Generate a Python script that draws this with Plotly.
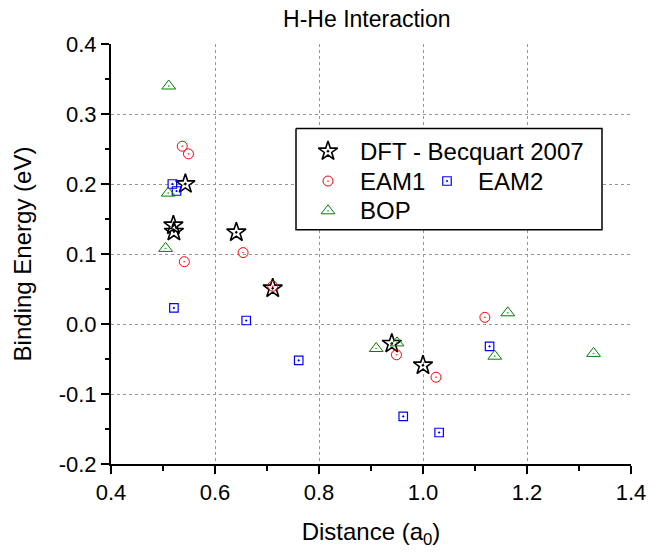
import plotly.graph_objects as go

# ---------------- data ----------------
dft_x = [0.543, 0.520, 0.521, 0.641, 0.711, 0.940, 1.000]
dft_y = [0.200, 0.141, 0.132, 0.131, 0.051, -0.028, -0.059]

eam1_x = [0.537, 0.549, 0.541, 0.654, 0.711, 0.949, 1.025, 1.119]
eam1_y = [0.254, 0.243, 0.089, 0.102, 0.054, -0.044, -0.076, 0.0095]

eam2_x = [0.518, 0.526, 0.521, 0.660, 0.761, 0.962, 1.031, 1.128]
eam2_y = [0.200, 0.190, 0.023, 0.005, -0.052, -0.132, -0.155, -0.032]

bop_x = [0.511, 0.510, 0.505, 0.910, 0.950, 1.138, 1.163, 1.328]
bop_y = [0.340, 0.187, 0.108, -0.035, -0.027, -0.046, 0.016, -0.042]

x_tick_vals = [0.4, 0.6, 0.8, 1.0, 1.2, 1.4]
x_tick_labels = ["0.4", "0.6", "0.8", "1.0", "1.2", "1.4"]
y_tick_vals = [-0.2, -0.1, 0.0, 0.1, 0.2, 0.3, 0.4]
y_tick_labels = ["-0.2", "-0.1", "0.0", "0.1", "0.2", "0.3", "0.4"]

series_names = ["DFT - Becquart 2007", "EAM1", "EAM2", "BOP"]

# ---------------- styles ----------------
FONT = "Liberation Sans, Arial, Helvetica, sans-serif"
W, H = 659, 553
ML, MR, MT, MB = 111, 28, 44, 86
BLACK = "black"
RED = "rgb(255,0,0)"
BLUE = "rgb(0,0,255)"
GREEN = "rgb(0,128,0)"

styles = {
    "star": dict(symbol="star-open-dot", size=14.5, color=BLACK, line=dict(color=BLACK, width=1.6)),
    "circle": dict(symbol="circle-open-dot", size=10, color=RED, line=dict(color=RED, width=1)),
    "square": dict(symbol="square-open-dot", size=8.5, color=BLUE, line=dict(color=BLUE, width=1.2)),
    "tri": dict(symbol="triangle-up-open-dot", size=12, color=GREEN, line=dict(color=GREEN, width=1)),
}

fig = go.Figure()
fig.add_trace(go.Scatter(x=dft_x, y=dft_y, mode="markers", name=series_names[0],
                         marker=styles["star"], showlegend=False))
fig.add_trace(go.Scatter(x=eam1_x, y=eam1_y, mode="markers", name=series_names[1],
                         marker=styles["circle"], showlegend=False))
fig.add_trace(go.Scatter(x=eam2_x, y=eam2_y, mode="markers", name=series_names[2],
                         marker=styles["square"], showlegend=False))
fig.add_trace(go.Scatter(x=bop_x, y=bop_y, mode="markers", name=series_names[3],
                         marker=styles["tri"], showlegend=False))

# ---------------- manual legend (pixel-coordinate overlay axes) ----------------
box_l, box_r, box_t, box_b = 296, 602, 129, 231
fig.add_trace(go.Scatter(x=[box_l, box_r, box_r, box_l, box_l],
                         y=[box_t, box_t, box_b, box_b, box_t],
                         mode="lines", fill="toself", fillcolor="white",
                         line=dict(color=BLACK, width=1.5),
                         xaxis="x3", yaxis="y3", showlegend=False, hoverinfo="skip"))
legend_items = [
    (series_names[0], "star", 328, 152, 358),
    (series_names[1], "circle", 328, 182, 358),
    (series_names[2], "square", 447, 182, 476),
    (series_names[3], "tri", 328, 212, 358),
]
for name, st, mx, my, tx in legend_items:
    fig.add_trace(go.Scatter(x=[mx], y=[my], mode="markers", marker=styles[st],
                             xaxis="x3", yaxis="y3", showlegend=False, hoverinfo="skip"))
    fig.add_annotation(x=tx, y=my, xref="x3", yref="y3", text=name, showarrow=False,
                       xanchor="left", yanchor="middle",
                       font=dict(family=FONT, size=24, color=BLACK))

axis_common = dict(showline=True, linecolor=BLACK, linewidth=2, zeroline=False)

fig.update_layout(
    width=W, height=H,
    margin=dict(l=ML, r=MR, t=MT, b=MB, pad=0),
    paper_bgcolor="white", plot_bgcolor="white",
    font=dict(family=FONT, color=BLACK),
    title=dict(text="H-He Interaction", x=0.492, xref="paper", xanchor="center",
               y=1 - 19 / H, yref="container", yanchor="middle",
               font=dict(family=FONT, size=23, color=BLACK)),
    xaxis=dict(range=[0.4, 1.4], tickvals=x_tick_vals, ticktext=x_tick_labels,
               ticks="outside", ticklen=8, tickwidth=1.5, tickcolor=BLACK,
               tickfont=dict(family=FONT, size=22, color=BLACK),
               minor=dict(dtick=0.1, tick0=0.4, ticks="outside", ticklen=5, tickwidth=1.5,
                          tickcolor=BLACK, showgrid=False),
               showgrid=True, gridcolor="rgb(150,150,150)", griddash="dot", gridwidth=1,
               title=dict(text="Distance (a<sub>0</sub>)", standoff=19,
                          font=dict(family=FONT, size=24, color=BLACK)),
               **axis_common),
    yaxis=dict(range=[-0.2, 0.4], tickvals=y_tick_vals, ticktext=y_tick_labels,
               ticks="outside", ticklen=8, tickwidth=1.5, tickcolor=BLACK,
               tickfont=dict(family=FONT, size=22, color=BLACK),
               minor=dict(dtick=0.05, tick0=0.0, ticks="outside", ticklen=4, tickwidth=1.5,
                          tickcolor=BLACK, showgrid=False),
               showgrid=True, gridcolor="rgb(150,150,150)", griddash="dot", gridwidth=1,
               title=dict(text="Binding Energy (eV)", standoff=20,
                          font=dict(family=FONT, size=24, color=BLACK)),
               **axis_common),
    xaxis2=dict(range=[0.4, 1.4], overlaying="x", anchor="y", side="top",
                dtick=0.1, tick0=0.4, ticks="inside", ticklen=6, tickwidth=1.5, tickcolor=BLACK,
                showticklabels=False, showgrid=False, **axis_common),
    yaxis2=dict(range=[-0.2, 0.4], overlaying="y", anchor="x", side="right",
                dtick=0.05, tick0=0.0, ticks="inside", ticklen=6, tickwidth=1.5, tickcolor=BLACK,
                showticklabels=False, showgrid=False, **axis_common),
    xaxis3=dict(range=[ML, W - MR], overlaying="x", anchor="y3", visible=False, fixedrange=True),
    yaxis3=dict(range=[H - MB, MT], overlaying="y", anchor="x3", visible=False, fixedrange=True),
    showlegend=False,
)

fig.write_html("out.html")
